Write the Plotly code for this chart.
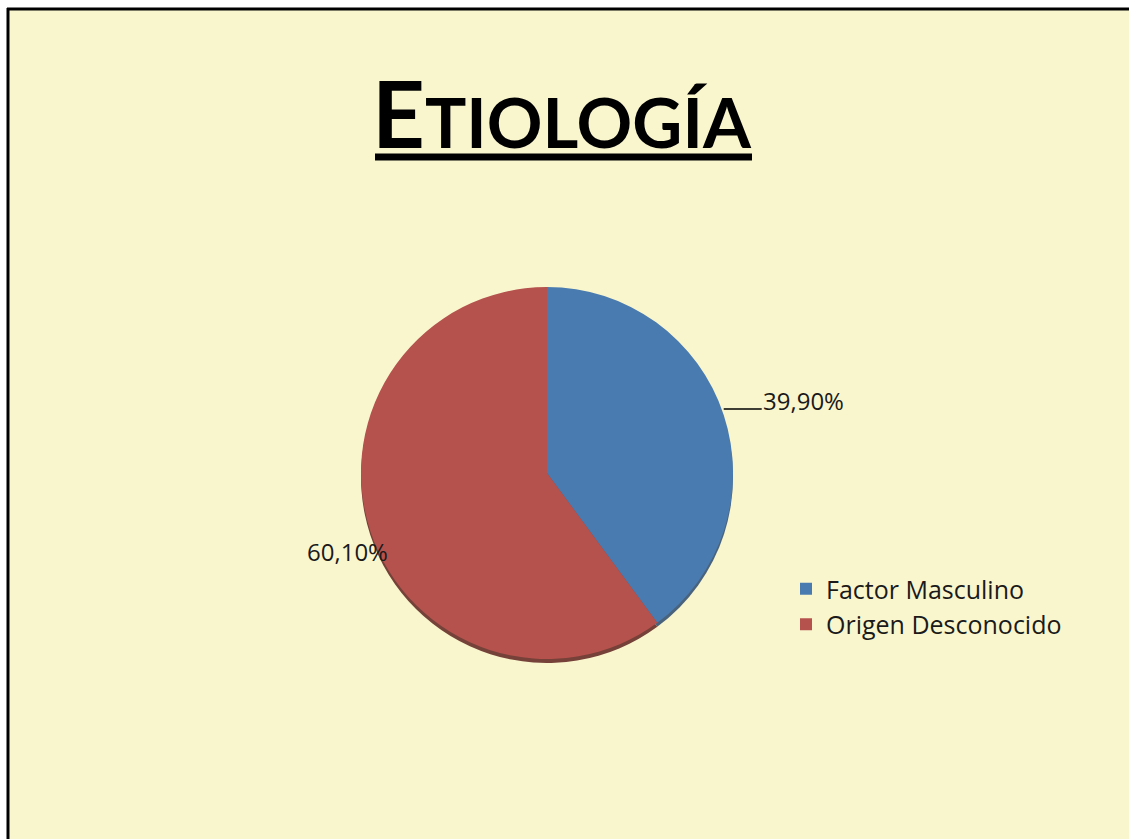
import numpy as np
import plotly.graph_objects as go

# Chart data
labels = ["Factor Masculino", "Origen Desconocido"]
values = [39.9, 60.1]
label_text = ["39,90%", "60,10%"]
colors = ["#4A7BB0", "#B5524D"]
shadow_colors = ["#2C4A6E", "#5E221F"]

W, H = 1129, 839
BG = "#F9F6CE"

# Pie placement in pixels
cx, cy, r = 547, 473, 186


def px(x):
    return x / W


def py(y):
    return 1 - y / H


dom_x = [px(cx - r), px(cx + r)]
dom_y = [py(cy + r), py(cy - r)]
shadow_dy = 4
dom_y_shadow = [py(cy + r + shadow_dy), py(cy - r + shadow_dy)]

fig = go.Figure()

# soft drop shadow under the pie
fig.add_trace(go.Pie(
    labels=labels, values=values, sort=False, direction="clockwise", rotation=0,
    marker=dict(colors=shadow_colors, line=dict(width=0)),
    textinfo="none", hoverinfo="skip", showlegend=False,
    domain=dict(x=dom_x, y=dom_y_shadow), opacity=0.85,
))

fig.add_trace(go.Pie(
    labels=labels, values=values, sort=False, direction="clockwise", rotation=0,
    marker=dict(colors=colors, line=dict(width=0)),
    textinfo="none", hoverinfo="label+percent",
    domain=dict(x=dom_x, y=dom_y),
))

# data labels placed from each slice's mid angle
vals = np.array(values, dtype=float)
frac = vals / vals.sum()
mid = (np.cumsum(frac) - frac / 2) * 2 * np.pi
annotations = []
shapes = []
label_font = dict(family="Open Sans, Lato, sans-serif", size=24, color="#1A1A1A")
for i, a in enumerate(mid):
    ex = cx + r * np.sin(a)
    ey = cy - r * np.cos(a)
    if np.sin(a) > 0:
        # leader line from the slice edge to the label
        ly = ey - 6
        shapes.append(dict(
            type="line", xref="paper", yref="paper",
            x0=px(ex), x1=px(ex + 38), y0=py(ly), y1=py(ly),
            line=dict(color="#000000", width=1.5), layer="above",
        ))
        annotations.append(dict(
            x=px(ex + 38), y=py(ly - 8), xref="paper", yref="paper",
            text=label_text[i], font=label_font, showarrow=False,
            xanchor="left", yanchor="middle", borderpad=0,
        ))
    else:
        annotations.append(dict(
            x=px(ex), y=py(ey), xref="paper", yref="paper",
            text=label_text[i], font=label_font, showarrow=False,
            xanchor="right", yanchor="top", xshift=20, yshift=-2,
        ))

# title in small caps
annotations.append(dict(
    x=px(562), y=py(112), xref="paper", yref="paper", showarrow=False,
    text="<b><span style='font-size:92px'>E</span>TIOLOGÍA</b>",
    font=dict(family="Lato, Open Sans, sans-serif", size=69, color="#000000"),
    xanchor="center", yanchor="middle",
))

shapes += [
    # white strips outside the frame
    dict(type="rect", xref="paper", yref="paper", x0=0, x1=px(7), y0=0, y1=1,
         fillcolor="#FFFFFF", line=dict(width=0), layer="above"),
    dict(type="rect", xref="paper", yref="paper", x0=0, x1=1, y0=py(8), y1=1,
         fillcolor="#FFFFFF", line=dict(width=0), layer="above"),
    # frame edges
    dict(type="line", xref="paper", yref="paper", x0=px(8), x1=px(8), y0=0, y1=py(8),
         line=dict(color="#000000", width=3), layer="above"),
    dict(type="line", xref="paper", yref="paper", x0=px(7), x1=1, y0=py(9), y1=py(9),
         line=dict(color="#000000", width=3), layer="above"),
    # title underline
    dict(type="line", xref="paper", yref="paper", x0=px(375), x1=px(752),
         y0=py(157), y1=py(157), line=dict(color="#000000", width=7), layer="above"),
]

fig.update_layout(
    width=W, height=H,
    margin=dict(l=0, r=0, t=0, b=0),
    paper_bgcolor=BG, plot_bgcolor=BG,
    annotations=annotations, shapes=shapes,
    legend=dict(
        x=px(786), y=py(566), xanchor="left", yanchor="top",
        font=dict(family="Open Sans, Lato, sans-serif", size=25, color="#1A1A1A"),
        bgcolor="rgba(0,0,0,0)",
    ),
)

fig.write_html("out.html")
